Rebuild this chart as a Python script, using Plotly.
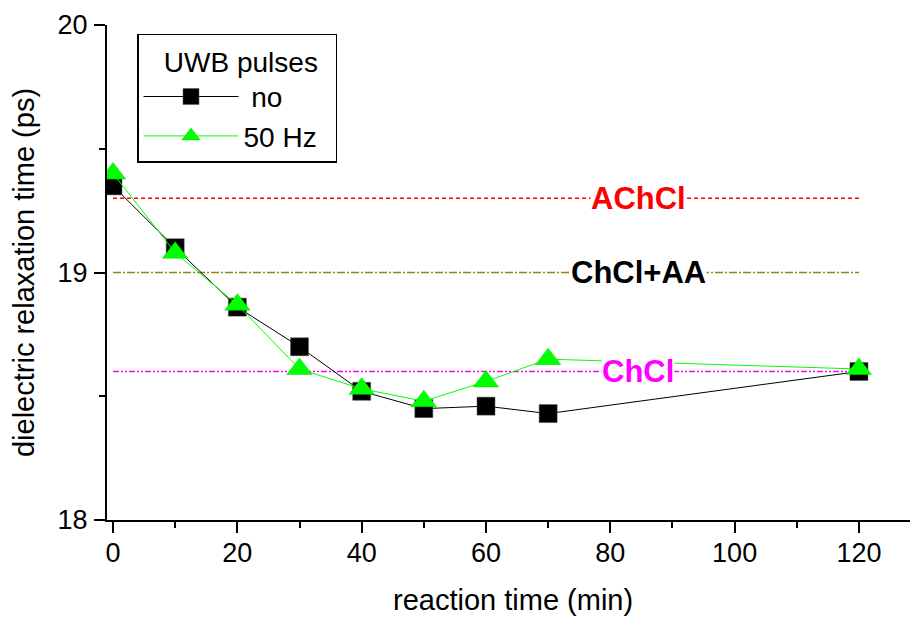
import plotly.graph_objects as go

# data
time_min = [0, 10, 20, 30, 40, 50, 60, 70, 120]
tau_no = [19.35, 19.10, 18.86, 18.70, 18.52, 18.45, 18.46, 18.43, 18.60]
tau_50hz = [19.40, 19.08, 18.87, 18.61, 18.53, 18.48, 18.56, 18.65, 18.61]

ref_names = ["AChCl", "ChCl+AA", "ChCl"]
ref_levels = [19.30, 19.00, 18.60]
ref_x = [0, 120]
ref_label_x = 84.5
ref_colors = ["#ff0000", "#8a8a10", "#ff00ff"]
ref_text_colors = ["#ff0000", "#000000", "#ff00ff"]
ref_dash = ["4px,3px", "8px,2px,2px,2px", "6px,2px,2px,2px,2px,2px"]

x_ticks = [0, 20, 40, 60, 80, 100, 120]
y_ticks = [18, 19, 20]

x_title = "reaction time (min)"
y_title = "dielectric relaxation time (ps)"

FONT = "Liberation Sans, Arial, sans-serif"
NB = "\u00a0"

fig = go.Figure()

for name, lvl, col, dsh in zip(ref_names, ref_levels, ref_colors, ref_dash):
    fig.add_trace(go.Scatter(
        x=ref_x, y=[lvl, lvl], mode="lines",
        line=dict(color=col, width=1.3, dash=dsh),
        showlegend=False, hoverinfo="skip"))

fig.add_trace(go.Scatter(
    x=time_min, y=tau_no, mode="lines+markers", name=NB + "no",
    line=dict(color="black", width=1),
    marker=dict(symbol="square", size=18, color="black",
                line=dict(color="#555555", width=0.5))))
fig.add_trace(go.Scatter(
    x=time_min, y=tau_50hz, mode="lines+markers", name="50 Hz",
    line=dict(color="#00ff00", width=1),
    marker=dict(symbol="triangle-up", size=22, color="#00ff00",
                line=dict(color="#00dd00", width=0.5))))

for name, lvl, tc in zip(ref_names, ref_levels, ref_text_colors):
    fig.add_annotation(
        x=ref_label_x, y=lvl, text="<b>%s</b>" % name, showarrow=False,
        font=dict(family=FONT, size=31, color=tc),
        bgcolor="white", borderpad=0, xanchor="center", yanchor="middle")

# x-axis title placed as annotation for exact vertical position
fig.add_annotation(
    x=0.5, y=-0.162, xref="paper", yref="paper", text=x_title,
    showarrow=False, font=dict(family=FONT, size=29, color="black"),
    xanchor="center", yanchor="middle")

XR = [-0.97, 129.5]

fig.update_layout(
    width=910, height=609,
    margin=dict(l=99, r=0, t=17, b=97),
    paper_bgcolor="white", plot_bgcolor="white",
    font=dict(family=FONT, size=27, color="black"),
    xaxis=dict(
        range=XR, tickvals=x_ticks, ticks="outside", ticklen=11, tickwidth=2,
        tickcolor="black", showline=True, linecolor="black", linewidth=2,
        showgrid=False, zeroline=False, automargin=False,
        minor=dict(dtick=10, tick0=0, ticks="outside", ticklen=6, tickwidth=2,
                   tickcolor="black"),
        tickfont=dict(size=27), ticklabelstandoff=-3,
    ),
    xaxis2=dict(
        range=XR, overlaying="x", side="top", dtick=10, tick0=0,
        ticks="outside", ticklen=5, tickwidth=1.5, tickcolor="black",
        showticklabels=False, showline=True, linecolor="black", linewidth=2,
        showgrid=False, zeroline=False, automargin=False,
    ),
    yaxis=dict(
        range=[18, 20], tickvals=y_ticks, ticks="outside", ticklen=11,
        tickwidth=2, tickcolor="black", showline=True, linecolor="black",
        linewidth=2, showgrid=False, zeroline=False, automargin=False,
        minor=dict(dtick=0.5, tick0=18, ticks="outside", ticklen=6,
                   tickwidth=2, tickcolor="black"),
        tickfont=dict(size=27), ticklabelstandoff=1,
        title=dict(text=y_title, font=dict(size=29)),
    ),
    legend=dict(
        title=dict(text=NB * 3 + "UWB pulses" + NB * 2, font=dict(size=28)),
        font=dict(size=28), x=0.037, y=0.982, xanchor="left", yanchor="top",
        bgcolor="white", bordercolor="black", borderwidth=1.5,
        itemwidth=95, tracegroupgap=0,
    ),
)

fig.write_html("out.html")
